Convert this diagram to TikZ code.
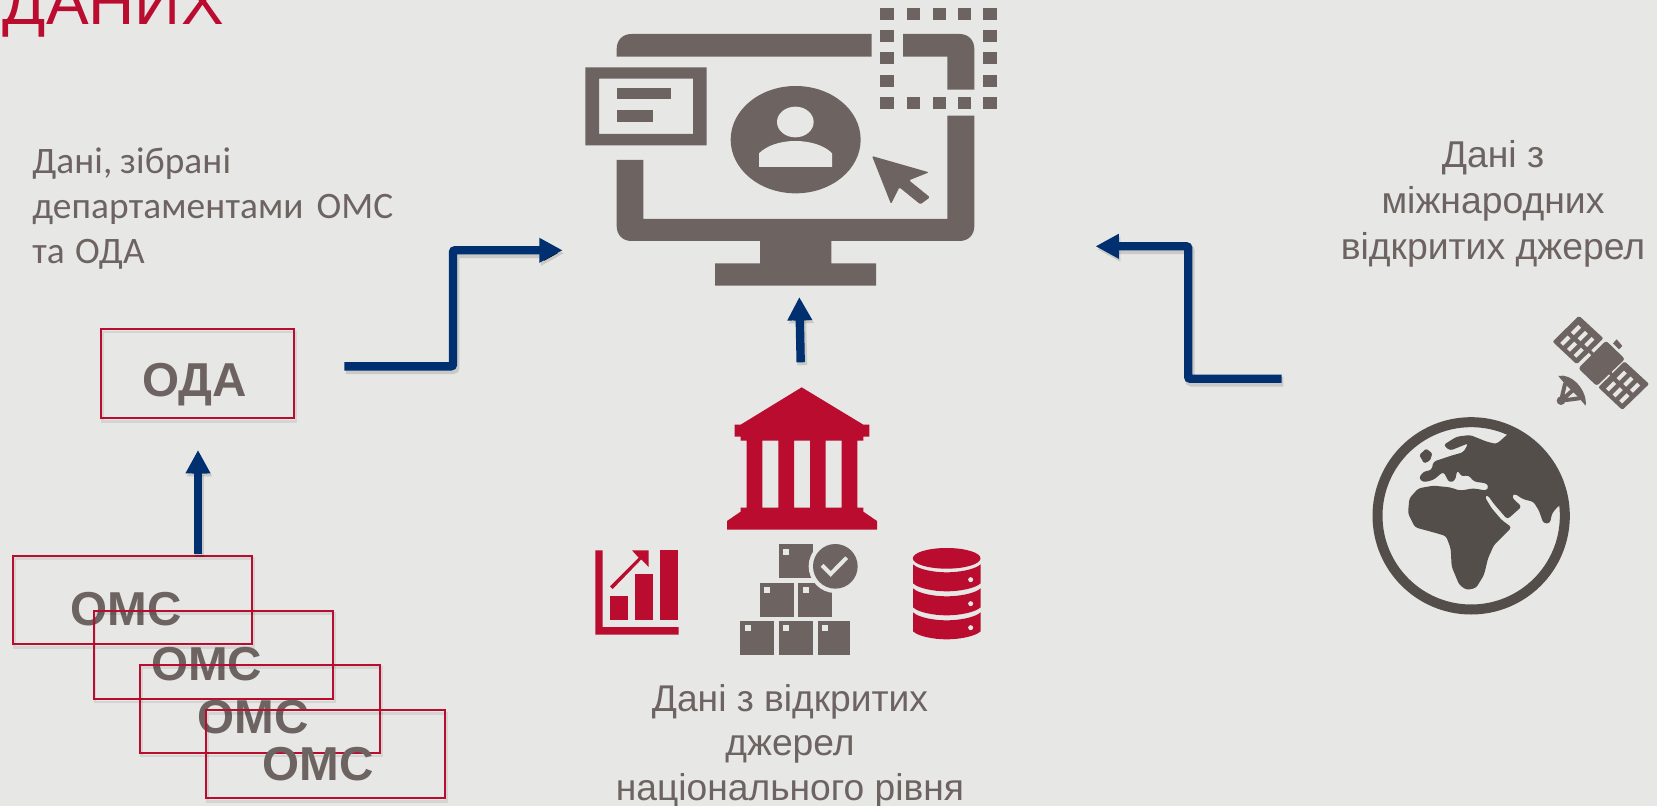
\documentclass[tikz,border=0pt]{standalone}
\usepackage{fontspec}
\setmainfont{Liberation Sans}
\newfontfamily\lefttextfont[LetterSpace=0.3,WordSpace=0.9]{Carlito}
\usetikzlibrary{arrows.meta}
\definecolor{pagebg}{HTML}{E7E7E5}
\definecolor{iconGray}{HTML}{6D6462}
\definecolor{iconRed}{HTML}{B90C2F}
\definecolor{flowBlue}{HTML}{00306F}
\definecolor{earthGray}{HTML}{544E4B}
\tikzset{
  flowarrow/.style={draw=flowBlue,line width=6.3pt,rounded corners=1.5pt,
    -{Triangle[length=17.5pt,width=17.5pt]},
    preaction={draw=black,draw opacity=.13,line width=7.3pt,
      -{Triangle[length=17.5pt,width=17.5pt]},
      transform canvas={xshift=1.2pt,yshift=-2.2pt}}},
  unitbox/.style={draw=iconRed,line width=1.25pt,rectangle,inner sep=0pt,
    preaction={draw=black,draw opacity=.08,line width=2pt,
      transform canvas={xshift=1pt,yshift=-2.2pt}}},
  unitlabel/.style={text=iconGray,font=\bfseries\fontsize{35.7pt}{35.7pt}\selectfont,anchor=base,inner sep=0pt},
  iconpart/.style={fill=iconGray,draw=none},
  redpart/.style={fill=iconRed,draw=none},
  caption/.style={text=iconGray,align=center,anchor=base,inner sep=0pt}
}
\begin{document}
\begin{tikzpicture}[x=0.75pt,y=-0.75pt]
\useasboundingbox (0,0) rectangle (1657,806);
\fill[pagebg] (0,0) rectangle (1657,806);

% title
\node[anchor=base west,inner sep=0pt,text=iconRed,font=\fontsize{48pt}{48pt}\selectfont] (title) at (2.5,25) {ДАНИХ};

% captions
\node[anchor=base west,align=left,inner sep=0pt,text=iconGray,font=\lefttextfont\fontsize{28pt}{33.5pt}\selectfont] (leftcap) at (32,263) {Дані, зібрані\\департаментами\hspace{4pt} ОМС\\та\hspace{2pt} ОДА};
\node[caption,font=\fontsize{28pt}{34.2pt}\selectfont] (rightcap) at (1493,259) {Дані з\\міжнародних\\відкритих джерел};
\node[caption,font=\fontsize{27.9pt}{33.4pt}\selectfont] (bottomcap) at (790,800.5) {Дані з відкритих\\джерел\\національного рівня};

% units
\node[unitbox,minimum width=192.7*0.75pt,minimum height=89.3*0.75pt] (oda) at (197.65,373.65) {};
\node[unitlabel] (odatext) at (194.5,396) {ОДА};
\node[unitbox,minimum width=239*0.75pt,minimum height=88.6*0.75pt] (oms1) at (132.8,600) {};
\node[unitlabel] (oms1text) at (126,625) {ОМС};
\node[unitbox,minimum width=239.3*0.75pt,minimum height=88.3*0.75pt] (oms2) at (213.35,654.85) {};
\node[unitlabel] (oms2text) at (206.7,680) {ОМС};
\node[unitbox,minimum width=239.7*0.75pt,minimum height=88.3*0.75pt] (oms3) at (260.15,708.85) {};
\node[unitlabel] (oms3text) at (253,733.7) {ОМС};
\node[unitbox,minimum width=239.3*0.75pt,minimum height=88*0.75pt] (oms4) at (325.65,754.3) {};
\node[unitlabel] (oms4text) at (318,780) {ОМС};

% arrows
\coordinate (a1s) at (344.3,366.3);
\coordinate (a1m) at (453,366.3);
\coordinate (a1n) at (453,250.3);
\coordinate (a1e) at (562.6,250.3);
\draw[flowarrow] (a1s) -- (a1m) -- (a1n) -- (a1e);
\coordinate (a2s) at (198,554);
\coordinate (a2e) at (198,450);
\draw[flowarrow] (a2s) -- (a2e);
\coordinate (a3s) at (800.7,362.3);
\coordinate (a3e) at (799.3,297);
\draw[flowarrow] (a3s) -- (a3e);
\coordinate (a4s) at (1281.7,378.7);
\coordinate (a4m) at (1188.2,378.7);
\coordinate (a4n) at (1188.2,246.3);
\coordinate (a4e) at (1095.5,246.3);
\draw[flowarrow] (a4s) -- (a4m) -- (a4n) -- (a4e);

% monitor (zoom coordinates, 3 per pixel)
\begin{scope}[shift={(560,0)},x=0.25pt,y=-0.25pt]
  \fill[iconpart] (170,170) -- (170,147) .. controls (170,120) and (188,102) .. (215,102) -- (935,102) -- (935,170) -- cycle;
  \fill[iconpart] (1029,102) -- (1198,102) .. controls (1225,102) and (1243,120) .. (1243,147) -- (1243,269) -- (1162,269) -- (1162,170) -- (1029,170) -- cycle;
  \fill[iconpart] (170,480) -- (250,480) -- (250,657) -- (1162,657) -- (1162,347) -- (1243,347) -- (1243,678) .. controls (1243,705) and (1225,723) .. (1198,723) -- (814,723) -- (814,790) -- (948,790) -- (948,857) -- (465,857) -- (465,790) -- (600,790) -- (600,723) -- (215,723) .. controls (188,723) and (170,705) .. (170,678) -- cycle;
  \foreach \cx/\wd in {960/42,1041/39,1119/39,1194/39,1269/42}{
    \fill[iconpart] (\cx,24) rectangle ++(\wd,36);
    \fill[iconpart] (\cx,291) rectangle ++(\wd,36);
  }
  \foreach \ry in {90,156,225}{
    \fill[iconpart] (960,\ry) rectangle ++(42,36);
    \fill[iconpart] (1269,\ry) rectangle ++(42,36);
  }
  \fill[iconpart,even odd rule] (76,202) rectangle (440,436) (117,236) rectangle (399,402);
  \fill[iconpart] (170,264) rectangle (332,297);
  \fill[iconpart] (170,330) rectangle (279,366);
  \fill[iconpart] (707,419) ellipse[x radius=195,y radius=161];
  \fill[pagebg] (706,366) ellipse[x radius=55,y radius=46];
  \fill[pagebg] (597,501) -- (597,460) .. controls (620,437) and (660,423) .. (706,423) .. controls (752,423) and (795,437) .. (816,460) -- (816,501) -- cycle;
  \fill[iconpart,rounded corners=1pt] (936,468) -- (1107,517) -- (1047,541) -- (1110,592) -- (1081,613) -- (1018,562) -- (993,612) -- cycle;
\end{scope}

% bank and small icons
\begin{scope}[shift={(570,370)},x=0.25pt,y=-0.25pt]
  \fill[redpart,even odd rule] (695,52) -- (880,164) -- (898,164) -- (898,200) -- (880,200) -- (880,212) -- (862,212) -- (862,413) -- (880,413) -- (880,425) -- (921,453) -- (921,479) -- (471,479) -- (471,453) -- (512,425) -- (512,413) -- (530,413) -- (530,212) -- (512,212) -- (512,200) -- (494,200) -- (494,164) -- (512,164) -- cycle
    (577,212) rectangle (625,413) (672,212) rectangle (720,413) (767,212) rectangle (815,413);
  % chart
  \fill[redpart] (76,541) -- (98,541) -- (98,771) -- (326,771) -- (326,794) -- (76,794) -- cycle;
  \fill[redpart] (120,678) rectangle (174,750);
  \fill[redpart] (195,612) rectangle (249,750);
  \fill[redpart] (270,540) rectangle (324,750);
  \fill[redpart] (186,541) -- (236,541) -- (236,591) -- (214,568) -- (128,657) -- (120,649) -- (206,563) -- cycle;
  % boxes
  \foreach \bx/\by/\bw in {627/523/102,569/638/102,685/638/102,511/753/102,627/753/102,743/753/97}{
    \fill[iconpart] (\bx,\by) rectangle ++(\bw,102);
    \fill[pagebg] (\bx+13,\by+13) rectangle ++(18,18);
  }
  \fill[pagebg] (796,589) circle[radius=80];
  \fill[iconpart] (796,589) circle[radius=67];
  \draw[pagebg,line width=3pt] (756,586) -- (782,612) -- (830,563);
  % database
  \fill[redpart] (1130,565) ellipse[x radius=101.5,y radius=31];
  \foreach \ly in {0,72,144}{
    \fill[redpart] (1029,583+\ly) .. controls (1045,598+\ly) and (1090,607+\ly) .. (1130,607+\ly) .. controls (1170,607+\ly) and (1215,598+\ly) .. (1232,583+\ly) -- (1232,640+\ly) .. controls (1215,655+\ly) and (1170,664+\ly) .. (1130,664+\ly) .. controls (1090,664+\ly) and (1045,655+\ly) .. (1029,640+\ly) -- cycle;
    \fill[pagebg] (1202,629+\ly) circle[radius=7.5];
  }
\end{scope}

% earth
\begin{scope}[shift={(1350,300)},x=0.25pt,y=-0.25pt]
  \draw[earthGray,line width=7.5pt] (363.5,647.5) circle[radius=281];
  \begin{scope}
    \clip (363.5,647.5) circle[radius=285];
    \fill[earthGray,rounded corners=2.2pt] (470,405) -- (440,432) -- (410,425) -- (360,405) -- (320,410) -- (280,435) -- (300,452) -- (355,430) -- (340,457) -- (310,465) -- (280,475) -- (250,485) -- (245,510) -- (220,515) -- (206,535) -- (220,547) -- (250,540) -- (280,515) -- (298,548) -- (315,542) -- (322,510) -- (335,530) -- (355,525) -- (372,545) -- (410,550) -- (416,560) -- (410,572) -- (370,565) -- (330,572) -- (300,562) -- (250,557) -- (205,565) -- (178,595) -- (174,640) -- (195,682) -- (250,697) -- (288,708) -- (302,745) -- (305,800) -- (328,855) -- (350,870) -- (378,864) -- (402,825) -- (414,775) -- (432,735) -- (485,682) -- (455,660) -- (425,625) -- (404,590) -- (412,584) -- (432,612) -- (472,658) -- (515,620) -- (485,592) -- (492,580) -- (520,598) -- (550,605) -- (567,632) -- (580,670) -- (600,670) -- (606,640) -- (627,616) -- (680,600) -- (680,340) -- (560,340) -- cycle;
  \end{scope}
  \fill[earthGray,rounded corners=1pt] (208,465) -- (228,446) -- (247,460) -- (240,482) -- (222,490) -- cycle;
\end{scope}

% satellite
\begin{scope}[shift={(1545,310)},x=0.25pt,y=-0.25pt]
  \foreach \dd in {0,137}{
    \begin{scope}[shift={(\dd,\dd)}]
      \fill[iconpart,draw=iconGray,line width=2.5pt,line join=round] (102,24) -- (168,85) -- (95,156) -- (30,95) -- cycle;
      \foreach \va/\vb/\vc/\vd in {50/103/72/81,82/71/104/49,70/121/92/99,102/89/124/67,90/139/112/117,122/107/144/85}{
        \draw[pagebg,line width=3pt] (\va,\vb) -- (\vc,\vd);
      }
    \end{scope}
  }
  \draw[iconGray,line width=2.5pt] (132,121) -- (202,196);
  \fill[iconpart,rounded corners=2pt] (183,92) -- (240,147) -- (155,228) -- (100,175) -- cycle;
  \fill[iconpart] (204,100) -- (215,88) -- (232,108) -- (222,118) -- cycle;
  \fill[iconpart] (40,198) .. controls (78,188) and (128,240) .. (122,287) -- (100,262) -- (60,222) -- cycle;
  \draw[iconGray,line width=3pt,line cap=round] (48,272) -- (60,222) (48,272) -- (103,265) (48,272) -- (82,242);
  \fill[iconpart] (48,272) circle[radius=13];
\end{scope}
\end{tikzpicture}
\end{document}
